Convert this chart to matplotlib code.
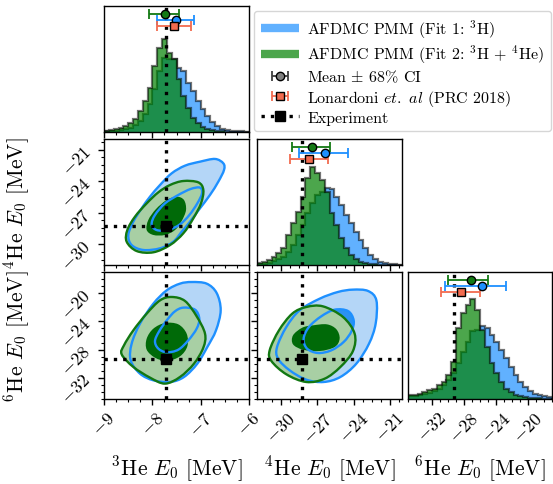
import numpy as np
import matplotlib.pyplot as plt
from matplotlib.path import Path
from matplotlib.patches import PathPatch
from matplotlib.lines import Line2D
from matplotlib.ticker import MultipleLocator, AutoMinorLocator

plt.rcParams['font.family'] = 'serif'
plt.rcParams['font.serif'] = ['cmr10']
plt.rcParams['mathtext.fontset'] = 'cm'
plt.rcParams['axes.formatter.use_mathtext'] = True

# ---- data -------------------------------------------------------------
names = ['$^3$He $E_0$ [MeV]', '$^4$He $E_0$ [MeV]', '$^6$He $E_0$ [MeV]']
lims = [(-9, -6), (-32, -20), (-35, -17)]
major_step = [1, 3, 4]
experiment = [-7.718, -28.296, -29.27]

# histogram bin heights (30 bins across each range), arbitrary density units
he3_fit1 = [0.7, 1, 1.3, 2, 2.7, 4.3, 6.7, 11, 17.7, 27.7, 42.7, 61, 74.3, 73.3, 72.7,
            64.3, 61, 49.3, 41, 31, 22.7, 16, 10, 6, 3.3, 2, 1.3, 1, 0.7, 0.3]
he3_fit2 = [1, 2, 2.7, 3.7, 6, 8.7, 12.7, 21, 31, 44, 66, 84, 92.7, 79, 72.7,
            52.7, 36, 24.3, 14.3, 9.3, 5, 2.7, 1.7, 1, 0.7, 0.3, 0.3, 0.2, 0.1, 0.1]
he4_fit1 = [0.7, 1.3, 2.3, 4, 6, 8.3, 13.3, 20, 30, 40, 51.7, 61.7, 70, 73.3, 76.7,
            76, 68.3, 60, 50, 41.7, 33.3, 25, 16.7, 10, 6, 3.3, 1.7, 1, 0.7, 0.3]
he4_fit2 = [1.7, 3.3, 5, 8.3, 11.7, 16.7, 30, 41.7, 53.3, 68.3, 86.7, 98.3, 91.7, 85, 73.3,
            51.7, 40, 26.7, 16.7, 10, 6, 3.3, 1.7, 1, 0.7, 0.3, 0.3, 0.1, 0.1, 0.1]
he6_fit1 = [2.7, 3.3, 4, 5.3, 6.3, 8, 10.3, 13.7, 18.7, 25.3, 35.3, 47, 57, 67, 68.7,
            72.7, 70.3, 63.7, 57, 48.7, 40.3, 32, 23.7, 17, 12, 8, 5.3, 3.7, 2.7, 2]
he6_fit2 = [3.7, 4.3, 5.3, 7, 8.7, 10.3, 13.7, 17, 23.7, 37, 70, 85, 93.7, 99.3, 88.7,
            68.7, 52, 35.3, 25.3, 17, 10.3, 7, 4.3, 3, 2, 1.3, 1, 0.7, 0.3, 0.3]
hist_fit1 = [he3_fit1, he4_fit1, he6_fit1]
hist_fit2 = [he3_fit2, he4_fit2, he6_fit2]

# mean and 68% interval
fit1_mean = [-7.52, -26.35, -25.78]
fit1_lo = [-7.91, -28.55, -30.41]
fit1_hi = [-7.13, -24.47, -22.75]
fit2_mean = [-7.74, -27.47, -27.18]
fit2_lo = [-8.06, -29.10, -30.00]
fit2_hi = [-7.44, -25.98, -24.95]
lon_mean = [-7.545, -27.70, -28.42]
lon_lo = [-7.91, -29.30, -30.82]
lon_hi = [-7.19, -26.13, -26.06]

# credible-region contours (x, y)
he4_he3_fit1_95 = [(-7.014, -22.16), (-6.703, -21.90), (-6.531, -22.32), (-6.517, -22.95),
                   (-6.634, -24.06), (-6.807, -25.33), (-7.014, -26.60), (-7.221, -27.87),
                   (-7.393, -28.83), (-7.566, -29.78), (-7.841, -30.41), (-8.186, -30.57),
                   (-8.428, -30.10), (-8.497, -29.14), (-8.393, -27.87), (-8.221, -26.60),
                   (-8.048, -25.49), (-7.841, -24.38), (-7.600, -23.27), (-7.324, -22.54)]
he4_he3_fit1_68 = [(-7.014, -24.63), (-6.972, -25.17), (-7.069, -26.13), (-7.234, -27.24),
                   (-7.428, -28.13), (-7.669, -28.67), (-7.910, -28.67), (-8.014, -28.13),
                   (-7.945, -27.24), (-7.738, -26.13), (-7.462, -25.33), (-7.207, -24.76)]
he4_he3_fit2_95 = [(-7.359, -24.00), (-7.048, -24.13), (-6.945, -24.86), (-6.993, -26.13),
                   (-7.152, -27.56), (-7.359, -28.98), (-7.634, -30.10), (-7.979, -30.79),
                   (-8.324, -30.67), (-8.531, -29.78), (-8.517, -28.67), (-8.359, -27.40),
                   (-8.117, -26.13), (-7.876, -25.08), (-7.634, -24.38)]
he4_he3_fit2_68 = [(-7.497, -25.49), (-7.345, -25.81), (-7.303, -26.76), (-7.393, -27.81),
                   (-7.531, -28.67), (-7.738, -29.14), (-7.979, -29.14), (-8.117, -28.67),
                   (-8.083, -27.71), (-7.924, -26.67), (-7.703, -25.81)]

he6_he3_fit1_95 = [(-7.186, -18.42), (-6.876, -18.65), (-6.669, -19.98), (-6.586, -22.43),
                   (-6.683, -25.27), (-6.862, -27.63), (-7.069, -29.99), (-7.345, -31.88),
                   (-7.634, -32.59), (-7.979, -32.35), (-8.255, -31.41), (-8.448, -29.52),
                   (-8.428, -27.16), (-8.255, -24.32), (-7.979, -21.49), (-7.703, -19.60),
                   (-7.428, -18.65)]
he6_he3_fit1_68 = [(-7.359, -22.05), (-7.117, -22.34), (-7.028, -23.61), (-7.083, -25.03),
                   (-7.255, -26.68), (-7.462, -28.01), (-7.703, -28.38), (-7.876, -27.86),
                   (-7.945, -26.78), (-7.855, -25.36), (-7.690, -23.75), (-7.531, -22.57)]
he6_he3_fit2_95 = [(-7.600, -20.54), (-7.324, -21.11), (-7.083, -23.28), (-6.910, -25.74),
                   (-6.945, -27.72), (-7.138, -29.99), (-7.428, -31.88), (-7.738, -32.82),
                   (-8.048, -31.97), (-8.393, -30.46), (-8.634, -28.67), (-8.586, -27.39),
                   (-8.393, -25.27), (-8.117, -22.90), (-7.841, -21.02)]
he6_he3_fit2_68 = [(-7.738, -24.23), (-7.462, -24.42), (-7.290, -25.74), (-7.276, -27.53),
                   (-7.428, -28.95), (-7.703, -29.61), (-7.945, -29.14), (-8.117, -28.01),
                   (-8.117, -26.45), (-7.979, -25.03)]

he6_he4_fit1_95 = [(-24.06, -19.50), (-22.81, -19.69), (-22.12, -21.02), (-22.18, -24.32),
                   (-22.73, -27.16), (-23.78, -29.99), (-25.10, -31.88), (-26.48, -32.59),
                   (-27.92, -32.26), (-29.30, -30.93), (-30.26, -29.28), (-30.34, -27.63),
                   (-29.57, -24.79), (-28.47, -22.43), (-26.81, -20.78), (-25.30, -19.83)]
he6_he4_fit1_68 = [(-25.57, -22.34), (-24.47, -22.53), (-24.00, -23.85), (-24.17, -25.36),
                   (-24.83, -26.92), (-25.85, -28.10), (-26.95, -28.48), (-27.86, -27.86),
                   (-28.14, -26.45), (-27.70, -24.79), (-26.68, -23.28)]
he6_he4_fit2_95 = [(-27.92, -21.96), (-26.54, -21.87), (-24.88, -23.38), (-23.92, -25.74),
                   (-24.06, -28.20), (-25.10, -30.46), (-26.40, -32.12), (-27.92, -32.59),
                   (-29.57, -31.50), (-30.81, -29.61), (-30.95, -28.10), (-30.18, -25.27),
                   (-29.08, -22.90)]
he6_he4_fit2_68 = [(-27.37, -24.56), (-26.21, -24.42), (-25.43, -25.12), (-25.16, -26.45),
                   (-25.57, -27.63), (-26.81, -28.20), (-28.19, -28.01), (-29.02, -27.25),
                   (-29.02, -25.98), (-28.25, -24.89)]

contours = {
    (1, 0): (he4_he3_fit1_95, he4_he3_fit1_68, he4_he3_fit2_95, he4_he3_fit2_68),
    (2, 0): (he6_he3_fit1_95, he6_he3_fit1_68, he6_he3_fit2_95, he6_he3_fit2_68),
    (2, 1): (he6_he4_fit1_95, he6_he4_fit1_68, he6_he4_fit2_95, he6_he4_fit2_68),
}

# ---- colours ----------------------------------------------------------
blue = '#1E90FF'
blue_light = '#b4d6f7'
blue_mid = '#2a92f2'
green_line = '#127812'
green_light = '#a8cfa4'
green_dark = '#006a08'
hist_green = 'green'
red = '#f26b4f'


def smooth(pts):
    p = np.asarray(pts, float)
    n = len(p)
    verts = [p[0]]
    codes = [Path.MOVETO]
    for i in range(n):
        p0, p1, p2, p3 = p[i - 1], p[i], p[(i + 1) % n], p[(i + 2) % n]
        verts += [p1 + (p2 - p0) / 6, p2 - (p3 - p1) / 6, p2]
        codes += [Path.CURVE4] * 3
    verts.append(p[0])
    codes.append(Path.CLOSEPOLY)
    return Path(verts, codes)


W, H = 553, 485
col_x = [104, 257, 408]
col_w = [145, 145, 144]
row_y = [7, 140, 273]
row_h = [126, 126, 127]

fig = plt.figure(figsize=(5.53, 4.85), dpi=100)


def panel(r, c):
    ax = fig.add_axes([col_x[c] / W, 1 - (row_y[r] + row_h[r]) / H, col_w[c] / W, row_h[r] / H])
    for s in ax.spines.values():
        s.set_linewidth(1.0)
    ax.tick_params(which='both', direction='out', top=False, right=False, labelsize=13)
    ax.tick_params(which='major', length=4, width=1)
    ax.tick_params(which='minor', length=2.3, width=0.8)
    ax.set_xlim(lims[c])
    ax.xaxis.set_major_locator(MultipleLocator(major_step[c]))
    ax.xaxis.set_minor_locator(AutoMinorLocator(4))
    if r < 2:
        ax.tick_params(labelbottom=False)
    else:
        ax.tick_params(axis='x', labelrotation=45)
        ax.set_xlabel(names[c], fontsize=15.5)
        ax.xaxis.set_label_coords(0.5, -0.43)
    return ax


dots = (0, (1, 1.8))

for i in range(3):
    ax = panel(i, i)
    edges = np.linspace(lims[i][0], lims[i][1], len(hist_fit1[i]) + 1)
    ax.stairs(hist_fit1[i], edges, fill=True, color=blue, alpha=0.7, lw=0)
    ax.stairs(hist_fit1[i], edges, color='k', alpha=0.55, lw=1.6)
    ax.stairs(hist_fit2[i], edges, fill=True, color=hist_green, alpha=0.7, lw=0)
    ax.stairs(hist_fit2[i], edges, color='k', alpha=0.55, lw=1.6)
    ax.set_ylim(0, 126)
    ax.set_yticks([])
    ax.tick_params(left=False, labelleft=False)
    ax.axvline(experiment[i], color='k', ls=dots, lw=2.4, zorder=4)
    ax.errorbar(fit2_mean[i], 0.935 * 126,
                xerr=[[fit2_mean[i] - fit2_lo[i]], [fit2_hi[i] - fit2_mean[i]]],
                fmt='o', color=green_line, mfc='#147a14', mec='k', ms=6, capsize=3.5,
                elinewidth=1.3, capthick=1.3, zorder=6)
    ax.errorbar(fit1_mean[i], 0.892 * 126,
                xerr=[[fit1_mean[i] - fit1_lo[i]], [fit1_hi[i] - fit1_mean[i]]],
                fmt='o', color=blue, mfc=blue, mec='k', ms=6, capsize=3.5,
                elinewidth=1.3, capthick=1.3, zorder=6)
    ax.errorbar(lon_mean[i], 0.842 * 126,
                xerr=[[lon_mean[i] - lon_lo[i]], [lon_hi[i] - lon_mean[i]]],
                fmt='s', color=red, mfc=red, mec='k', ms=6, capsize=3.5,
                elinewidth=1.3, capthick=1.3, zorder=6)

for (r, c), (f1_95, f1_68, f2_95, f2_68) in contours.items():
    ax = panel(r, c)
    ax.set_ylim(lims[r])
    ax.yaxis.set_major_locator(MultipleLocator(major_step[r]))
    ax.yaxis.set_minor_locator(AutoMinorLocator(4))
    if c > 0:
        ax.tick_params(labelleft=False)
    else:
        ax.tick_params(axis='y', labelrotation=45)
        ax.set_ylabel(names[r], fontsize=15.5)
        ax.yaxis.set_label_coords(-0.5, 0.5)
    ax.add_patch(PathPatch(smooth(f1_95), facecolor=blue_light, edgecolor='none', zorder=1))
    ax.add_patch(PathPatch(smooth(f1_68), facecolor=blue_mid, edgecolor='none', zorder=1.1))
    ax.add_patch(PathPatch(smooth(f2_95), facecolor=green_light, edgecolor='none', zorder=1.2))
    ax.add_patch(PathPatch(smooth(f2_68), facecolor=green_dark, edgecolor='none', zorder=1.3))
    for pts in (f1_95, f1_68):
        ax.add_patch(PathPatch(smooth(pts), fill=False, edgecolor=blue, lw=1.7, zorder=2))
    ax.add_patch(PathPatch(smooth(f2_95), fill=False, edgecolor=green_line, lw=1.7, zorder=2.1))
    ax.axvline(experiment[c], color='k', ls=dots, lw=2.4, zorder=4)
    ax.axhline(experiment[r], color='k', ls=dots, lw=2.4, zorder=4)
    ax.plot(experiment[c], experiment[r], 's', color='k', ms=6.5, zorder=5)

# ---- legend -----------------------------------------------------------
h_fit1 = Line2D([], [], color=blue, alpha=0.7, lw=6, solid_capstyle='butt')
h_fit2 = Line2D([], [], color=hist_green, alpha=0.7, lw=6, solid_capstyle='butt')
dummy = fig.axes[0]
h_mean = dummy.errorbar([np.nan], [np.nan], xerr=[[0.1], [0.1]], fmt='o', color='0.25',
                        mfc='gray', mec='k', ms=6, capsize=3.5, elinewidth=1.3, capthick=1.3)
h_lon = dummy.errorbar([np.nan], [np.nan], xerr=[[0.1], [0.1]], fmt='s', color=red,
                       mfc=red, mec='k', ms=6, capsize=3.5, elinewidth=1.3, capthick=1.3)
h_exp = Line2D([], [], color='k', ls=dots, lw=2.4, marker='s', ms=6.5)
fig.legend([h_fit1, h_fit2, h_mean, h_lon, h_exp],
           ['AFDMC PMM (Fit 1: $^3$H)', 'AFDMC PMM (Fit 2: $^3$H + $^4$He)',
            r'Mean $\pm$ 68% CI', r'Lonardoni $\mathit{et.\ al}$ (PRC 2018)', 'Experiment'],
           loc='upper left', bbox_to_anchor=(254 / W, 1 - 12 / H), fontsize=11.5,
           handlelength=2.4, handletextpad=0.5, labelspacing=0.18, borderpad=0.42,
           borderaxespad=0)

fig.savefig('out.png', dpi=100)
